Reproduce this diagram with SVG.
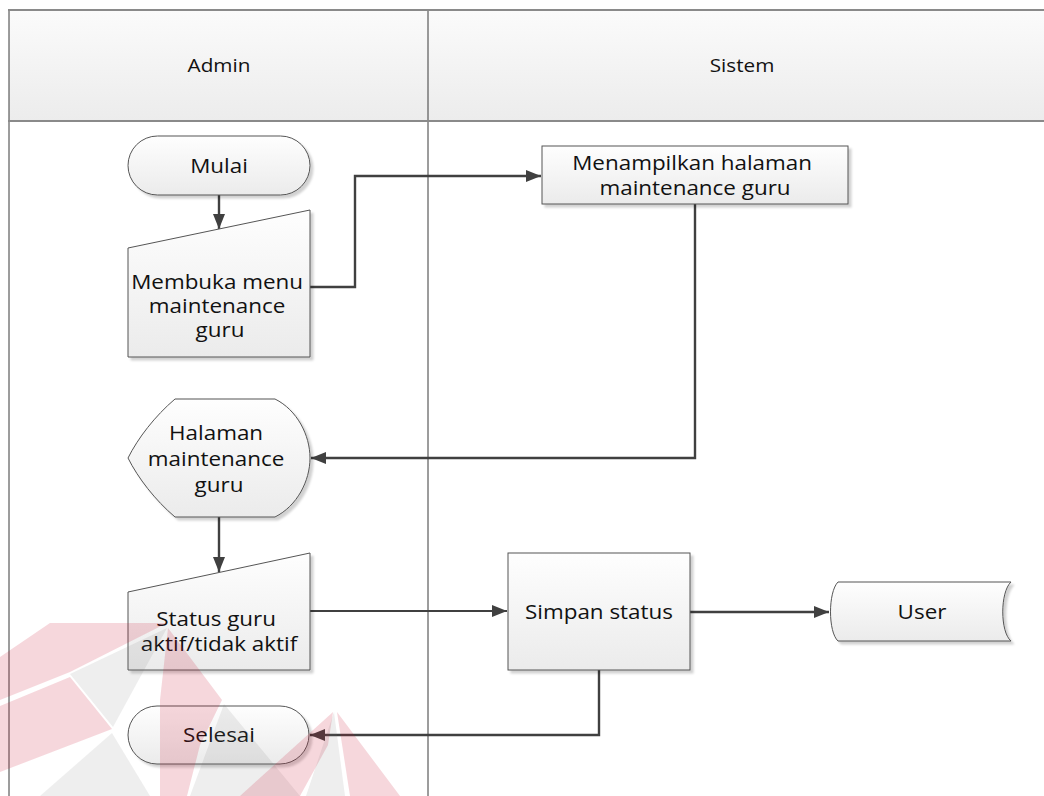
<svg xmlns="http://www.w3.org/2000/svg" width="1044" height="796" viewBox="0 0 1044 796">
  <defs>
    <linearGradient id="hdrFill" x1="0" y1="0" x2="0" y2="1">
      <stop offset="0" stop-color="#fbfbfb"/>
      <stop offset="1" stop-color="#ececec"/>
    </linearGradient>
    <linearGradient id="shapeFill" x1="0" y1="0" x2="0" y2="1">
      <stop offset="0" stop-color="#fefefe"/>
      <stop offset="1" stop-color="#ebebeb"/>
    </linearGradient>
    <filter id="shadow" x="-10%" y="-10%" width="130%" height="130%">
      <feDropShadow dx="3" dy="3" stdDeviation="1.2" flood-color="#000" flood-opacity="0.18"/>
    </filter>
    <marker id="arrow" markerUnits="userSpaceOnUse" markerWidth="16" markerHeight="12" refX="15" refY="6" orient="auto">
      <path d="M0,0 L15,6 L0,12 Z" fill="#404040"/>
    </marker>
    <style>
      .lane { fill: none; stroke: #3a3a3a; stroke-width: 1; }
      .hdr-rule { fill: none; stroke: #8a8a8a; stroke-width: 2.2; }
      .shape { fill: url(#shapeFill); stroke: #555; stroke-width: 1; filter: url(#shadow); }
      .conn { fill: none; stroke: #404040; stroke-width: 2.4; marker-end: url(#arrow); }
      .conn-thin { stroke-width: 2; }
      .label { font-family: "Open Sans", "Noto Sans", sans-serif; font-size: 19.5px; fill: #111; text-anchor: middle; }
      .hdr-label { font-family: "Open Sans", "Noto Sans", sans-serif; font-size: 18px; fill: #111; text-anchor: middle; }
      .wm-red { fill: #c8102e; opacity: 0.17; }
      .wm-grey { fill: #777; opacity: 0.12; }
    </style>
  </defs>

  <rect width="1044" height="796" fill="#ffffff"/>

  <!-- swimlane frame -->
  <g id="lanes">
    <rect x="9" y="10" width="1050" height="111" fill="url(#hdrFill)"/>
    <line class="lane" x1="9" y1="10" x2="9" y2="796"/>
    <line class="lane" x1="428" y1="10" x2="428" y2="796"/>
    <line class="hdr-rule" x1="8" y1="10" x2="1044" y2="10"/>
    <line class="hdr-rule" x1="8" y1="121" x2="1044" y2="121"/>
    <text class="hdr-label" transform="translate(219,72) scale(1.15,1)">Admin</text>
    <text class="hdr-label" transform="translate(742,72) scale(1.15,1)">Sistem</text>
  </g>

  <!-- connectors -->
  <g id="connectors">
    <path class="conn" d="M219,195 V229"/>
    <path class="conn" d="M310,287 H355 V176 H541"/>
    <path class="conn" d="M695,204 V458 H311"/>
    <path class="conn" d="M219,517 V572"/>
    <path class="conn conn-thin" d="M310,611 H507"/>
    <path class="conn" d="M690,612 H829"/>
    <path class="conn" d="M599,670 V735 H310"/>
  </g>

  <g id="mulai">
    <rect class="shape" x="128" y="136" width="182" height="59" rx="29.5"/>
    <text class="label" transform="translate(219,173) scale(1.15,1)">Mulai</text>
  </g>

  <g id="membuka-menu">
    <polygon class="shape" points="128,248 310,210 310,357 128,357"/>
    <text class="label" transform="translate(220,289) scale(1.15,1)">
      <tspan x="0" y="0">Membuka menu</tspan>
      <tspan x="0" y="24">maintenance</tspan>
      <tspan x="0" y="48">guru</tspan>
    </text>
  </g>

  <g id="menampilkan-halaman">
    <rect class="shape" x="542" y="146" width="306" height="58"/>
    <text class="label" transform="translate(695,170) scale(1.15,1)">
      <tspan x="0" y="0">Menampilkan halaman</tspan>
      <tspan x="0" y="25">maintenance guru</tspan>
    </text>
  </g>

  <g id="halaman-maintenance">
    <path class="shape" d="M175,399 H275 C297,410 310,435 310,458 C310,481 297,506 275,517 H175 C155,500 138,478 128,458 C138,438 155,416 175,399 Z"/>
    <text class="label" transform="translate(219,440) scale(1.15,1)">
      <tspan x="0" y="0">Halaman</tspan>
      <tspan x="0" y="26">maintenance</tspan>
      <tspan x="0" y="52">guru</tspan>
    </text>
  </g>

  <g id="status-guru">
    <polygon class="shape" points="128,592 310,553 310,670 128,670"/>
    <text class="label" transform="translate(219,626) scale(1.15,1)">
      <tspan x="0" y="0">Status guru</tspan>
      <tspan x="0" y="25">aktif/tidak aktif</tspan>
    </text>
  </g>

  <g id="simpan-status">
    <rect class="shape" x="508" y="553" width="182" height="117"/>
    <text class="label" transform="translate(599,619) scale(1.15,1)">Simpan status</text>
  </g>

  <g id="user">
    <path class="shape" d="M838,582 H1011 C1000,592 1000,632 1011,641 H838 C828,632 828,592 838,582 Z"/>
    <text class="label" transform="translate(922,619) scale(1.15,1)">User</text>
  </g>

  <g id="selesai">
    <rect class="shape" x="128" y="706" width="181" height="58" rx="29"/>
    <text class="label" transform="translate(219,742) scale(1.15,1)">Selesai</text>
  </g>

  <!-- faint logo mark in the lower left -->
  <g id="logo-mark">
    <polygon class="wm-red" points="50,623 167,623 70,672 0,700 0,657"/>
    <polygon class="wm-grey" points="70,674 167,628 113,727"/>
    <polygon class="wm-red" points="0,706 70,677 112,729 0,772"/>
    <polygon class="wm-grey" points="112,733 40,796 150,796"/>
    <polygon class="wm-red" points="168,628 222,700 200,745 187,796 160,796 160,700"/>
    <polygon class="wm-grey" points="224,704 300,796 190,796"/>
    <polygon class="wm-red" points="333,712 240,796 300,796 328,745"/>
    <polygon class="wm-grey" points="334,712 345,796 306,796"/>
    <polygon class="wm-red" points="337,712 400,796 350,796"/>
  </g>
</svg>
